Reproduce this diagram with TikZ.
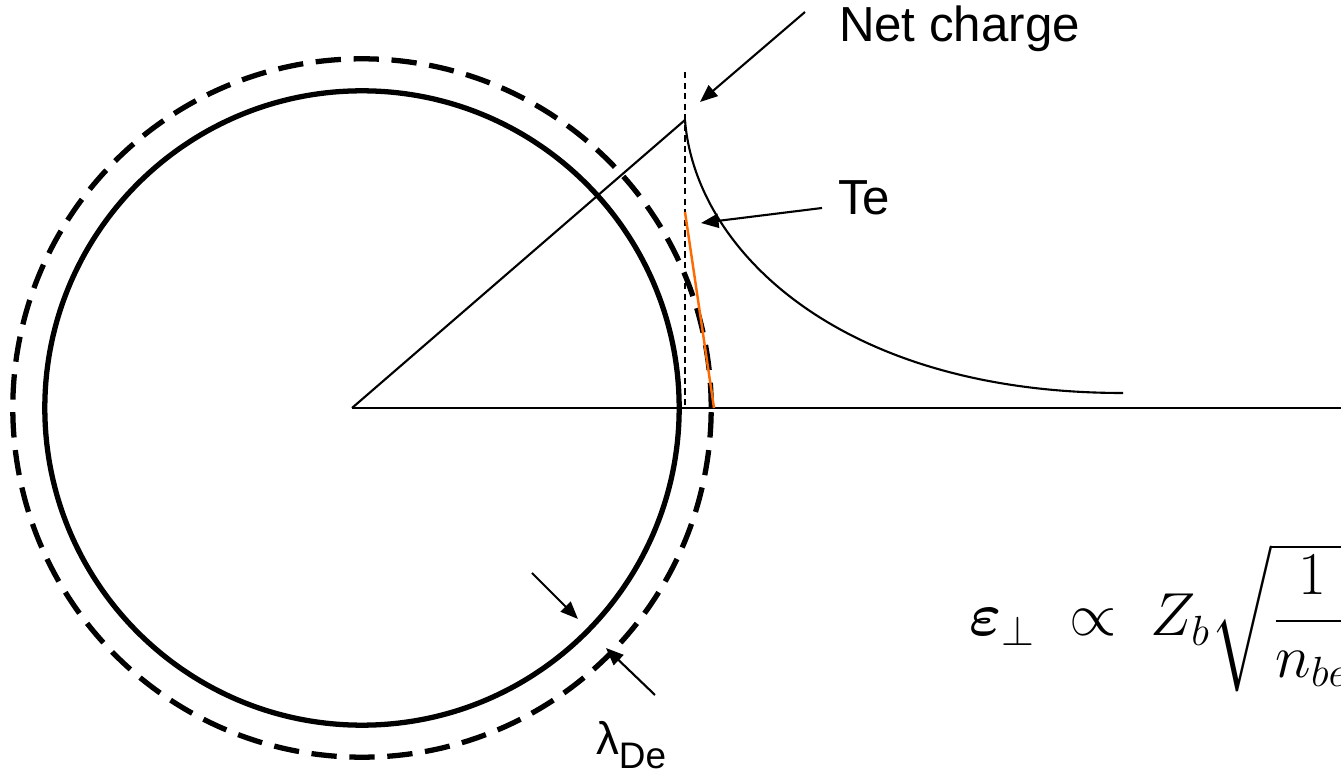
\documentclass[tikz,border=0pt]{standalone}
\usepackage{fontspec}
\setmainfont{Liberation Sans}
\usepackage{amsmath}
\usetikzlibrary{positioning, arrows.meta}
\definecolor{pendiente}{HTML}{FF6A00}
\definecolor{trazo}{HTML}{000000}

\begin{document}
\begin{tikzpicture}[x=0.01cm, y=-0.01cm, line width=0.6pt, trazo,
  rotulo/.style={font=\fontsize{14}{16}\selectfont, inner sep=0pt},
  flecha/.style={-{Triangle[length=5pt, width=4pt]}}]
  \useasboundingbox (0,0) rectangle (1341,773);
  \clip (0,0) rectangle (1341,773);
  % circulos
  \coordinate (centro) at (362,408);
  \draw[line width=1.5pt] (centro) circle[radius=3.17cm];
  \draw[line width=1.5pt, dash pattern=on 7.2pt off 3.6pt] (centro) circle[radius=3.49cm];
  % ejes
  \coordinate (origen) at (352,408);
  \coordinate (fin) at (1341,408);
  \coordinate (cima) at (685,120);
  \coordinate (tope) at (685,72);
  \coordinate (pie) at (685,408);
  \coordinate (cola) at (1123,393);
  \draw (origen) -- (fin);
  \draw (origen) -- (cima);
  \draw[line width=0.5pt, dash pattern=on 1.8pt off 1.2pt] (tope) -- (pie);
  \draw (cima) .. controls (695,250) and (840,393) .. (cola);
  % tangente
  \coordinate (t0) at (685,212);
  \coordinate (t1) at (714,408);
  \draw[pendiente, line width=0.7pt] (t0) -- (t1);
  % rotulos
  \node[rotulo, anchor=base west] (carga) at (838,42) {Net charge};
  \node[rotulo, anchor=base west] (te) at (837,215) {Te};
  \node[rotulo, anchor=base west, font=\fontsize{13}{15}\selectfont] (lambda) at (595,755)
    {λ\raisebox{-3.7pt}{\fontsize{10.5}{12}\selectfont De}};
  \node[anchor=base west, inner sep=0pt, font=\fontsize{18.5}{22}\selectfont] (campo) at (968,636)
    {$\boldsymbol{\varepsilon}_{\perp} \;\propto\; Z_b\sqrt{\dfrac{1}{n_{be}}}$};
  % flechas
  \foreach \a/\b/\c/\d [count=\k] in {805/12/700/102, 822/208/701/223,
                                     532/573/578/619, 655/695/606/648} {
    \coordinate (de\k) at (\a,\b);
    \coordinate (a\k) at (\c,\d);
    \draw[flecha] (de\k) -- (a\k);
  }
\end{tikzpicture}
\end{document}
